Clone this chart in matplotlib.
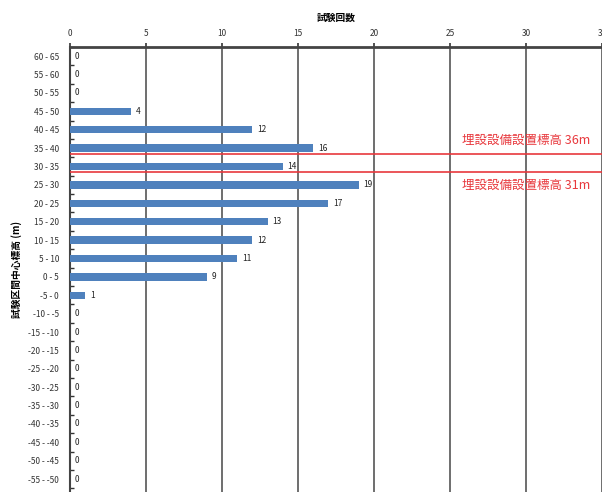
import matplotlib
matplotlib.use("Agg")
import matplotlib.pyplot as plt

plt.rcParams['font.family'] = ['Noto Sans CJK JP', 'DejaVu Sans']

categories = ["60 - 65", "55 - 60", "50 - 55", "45 - 50", "40 - 45", "35 - 40",
              "30 - 35", "25 - 30", "20 - 25", "15 - 20", "10 - 15", "5 - 10",
              "0 - 5", "-5 - 0", "-10 - -5", "-15 - -10", "-20 - -15", "-25 - -20",
              "-30 - -25", "-35 - -30", "-40 - -35", "-45 - -40", "-50 - -45", "-55 - -50"]
counts = [0, 0, 0, 4, 12, 16, 14, 19, 17, 13, 12, 11, 9, 1, 0, 0, 0, 0, 0, 0, 0, 0, 0, 0]
ref_levels = [36, 31]
ref_labels = ["埋設設備設置標高 36m", "埋設設備設置標高 31m"]
xticks = [0, 5, 10, 15, 20, 25, 30, 35]

fig = plt.figure(figsize=(6.02, 4.92), dpi=100)
ax = fig.add_axes([0.1163, 0.0, 0.8837, 0.9045])

n = len(categories)
ypos = list(range(n))
ax.barh(ypos, counts, height=0.4, color='#4F81BD', zorder=3)
for y, v in zip(ypos, counts):
    ax.text(v + 0.3, y, str(v), va='center', ha='left', fontsize=6, color='#222222', zorder=4)

ax.set_ylim(n - 0.5 + 0.2, -0.5)
ax.set_xlim(0, 35)
ax.set_yticks(ypos)
ax.set_yticklabels(categories, fontsize=6, color='#333333')
ax.set_yticks([i + 0.5 for i in range(-1, n)], minor=True)
ax.tick_params(axis='y', which='major', length=0, pad=8)
ax.tick_params(axis='y', which='minor', length=3, width=1, color='#333333', direction='in')

ax.xaxis.tick_top()
ax.set_xticks(xticks)
ax.set_xticklabels([str(t) for t in xticks], fontsize=6, color='#333333')
ax.tick_params(axis='x', length=3, width=1.2, color='#333333')
ax.grid(axis='x', color='#555555', linewidth=1.2, zorder=1)

ax.set_xlabel("試験回数", fontsize=7, fontweight='bold', labelpad=6)
ax.xaxis.set_label_position('top')
ax.set_ylabel("試験区間中心標高 (m)", fontsize=7, fontweight='bold', labelpad=4)

for s in ['right', 'bottom']:
    ax.spines[s].set_visible(False)
ax.spines['top'].set_linewidth(2)
ax.spines['top'].set_color('#444444')
ax.spines['left'].set_linewidth(1.5)
ax.spines['left'].set_color('#444444')

def elev_to_y(e):
    return (65 - e) / 5.0 - 0.5

offsets = [-0.35, 0.35]
valigns = ['bottom', 'top']
for lvl, lab, off, va in zip(ref_levels, ref_labels, offsets, valigns):
    y = elev_to_y(lvl)
    ax.axhline(y, color='#E8383D', linewidth=1.2, zorder=5)
    ax.text(25.8, y + off, lab, color='#E8383D', fontsize=9, va=va, ha='left', zorder=6)

fig.savefig("out.png", dpi=100)
